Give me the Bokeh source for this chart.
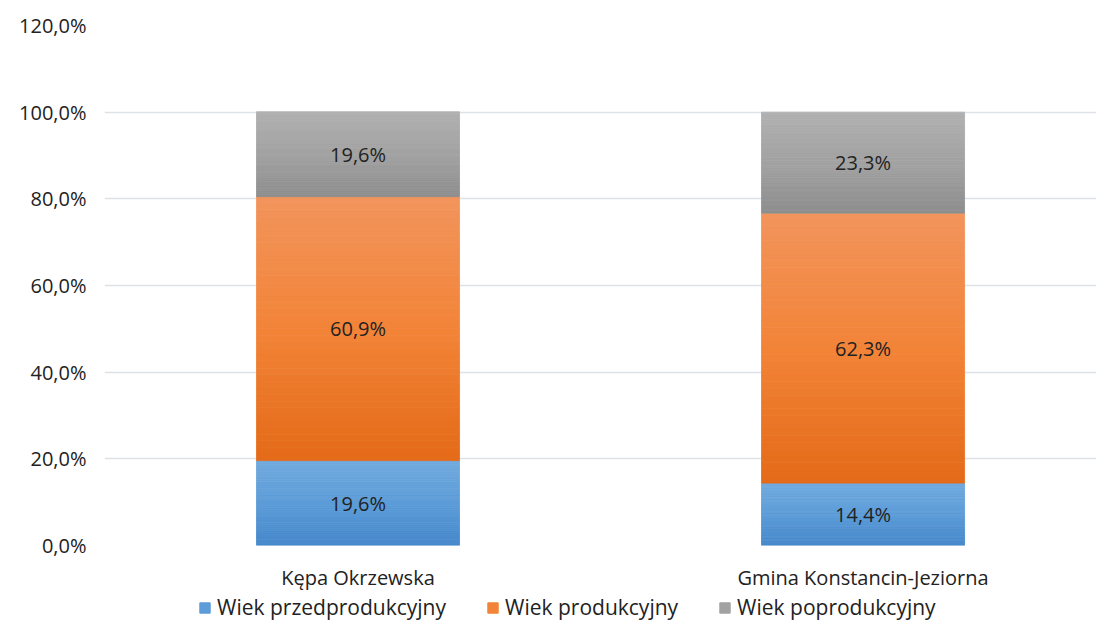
from bokeh.plotting import figure
from bokeh.layouts import column
from bokeh.models import (ColumnDataSource, Range1d, FixedTicker, Legend, LegendItem)
from bokeh.core.properties import value
from bokeh.embed import file_html
from bokeh.resources import INLINE

categories = ["Kępa Okrzewska", "Gmina Konstancin-Jeziorna"]
series_names = ["Wiek przedprodukcyjny", "Wiek produkcyjny", "Wiek poprodukcyjny"]
przed = [19.6, 14.4]
prod = [60.9, 62.3]
poprod = [19.6, 23.3]
y_ticks = [0, 20, 40, 60, 80, 100, 120]
y_tick_labels = ["0,0%", "20,0%", "40,0%", "60,0%", "80,0%", "100,0%", "120,0%"]

series_values = [przed, prod, poprod]
# gradient stops (bottom, middle, top) per series
stops = [
    [(70, 136, 203), (92, 156, 216), (114, 170, 222)],
    [(228, 106, 24), (242, 132, 56), (242, 148, 92)],
    [(142, 142, 142), (162, 162, 162), (176, 176, 176)],
]

FONT = "Open Sans"
TXT = "#222222"
N = 40
BAR_W = 0.402
xs = [0.5 + i for i in range(len(categories))]


def lerp_color(st, f):
    if f <= 0.5:
        a, b, t = st[0], st[1], f / 0.5
    else:
        a, b, t = st[1], st[2], (f - 0.5) / 0.5
    c = tuple(int(round(a[j] + (b[j] - a[j]) * t)) for j in range(3))
    return "#%02x%02x%02x" % c


p = figure(width=1096, height=593, output_backend="svg", toolbar_location=None,
           x_range=Range1d(-0.002, 1.9623), y_range=Range1d(0, 120),
           min_border_left=104, min_border_right=0, min_border_top=25,
           min_border_bottom=48)
p.outline_line_color = None
p.xgrid.grid_line_color = None
p.ygrid.grid_line_color = "#dde2e8"
p.ygrid.grid_line_width = 1.6
p.background_fill_color = "white"
p.border_fill_color = "white"

p.yaxis.ticker = FixedTicker(ticks=y_ticks)
p.yaxis.major_label_overrides = {t: l for t, l in zip(y_ticks, y_tick_labels)}
p.xaxis.ticker = FixedTicker(ticks=xs)
p.xaxis.major_label_overrides = {x: c for x, c in zip(xs, categories)}
for ax in (p.xaxis, p.yaxis):
    ax.axis_line_color = None
    ax.major_tick_line_color = None
    ax.minor_tick_line_color = None
    ax.major_label_text_font = FONT
    ax.major_label_text_font_size = "20px"
    ax.major_label_text_color = TXT
p.yaxis.major_label_standoff = 12
p.xaxis.major_label_standoff = 12

cum = [0.0] * len(categories)
lab_x, lab_y, lab_t = [], [], []
for s, vals in enumerate(series_values):
    bx, bb, bt, bc = [], [], [], []
    for i, v in enumerate(vals):
        base = cum[i]
        for k in range(N):
            bx.append(xs[i])
            bb.append(base + v * k / N)
            bt.append(base + v * (k + 1) / N)
            bc.append(lerp_color(stops[s], (k + 0.5) / N))
        lab_x.append(xs[i])
        lab_y.append(base + v / 2)
        lab_t.append(("%.1f" % v).replace(".", ",") + "%")
        cum[i] = base + v
    src = ColumnDataSource(dict(x=bx, bottom=bb, top=bt, color=bc))
    p.vbar(x="x", width=BAR_W, bottom="bottom", top="top", source=src,
           fill_color="color", line_color="color", line_width=0.8)

p.text(x=lab_x, y=lab_y, text=lab_t, text_align="center", text_baseline="middle",
       text_font=value(FONT), text_font_size="20px", text_color=TXT)

# legend strip below the chart
lg = figure(width=1096, height=31, output_backend="svg", toolbar_location=None,
            x_range=Range1d(0, 1), y_range=Range1d(0, 1),
            min_border_left=0, min_border_right=0, min_border_top=0,
            min_border_bottom=0)
lg.axis.visible = False
lg.grid.visible = False
lg.outline_line_color = None
items = []
for n, st in zip(series_names, stops):
    c = lerp_color(st, 0.5)
    r = lg.vbar(x=[-5], width=0.1, top=[-5], bottom=[-6], fill_color=c, line_color=c)
    items.append(LegendItem(label=n, renderers=[r]))
legend = Legend(items=items, orientation="horizontal", location=(94, 3),
                label_text_font=FONT, label_text_font_size="21px",
                label_text_color=TXT, glyph_width=13, glyph_height=13,
                label_standoff=6, spacing=40, padding=0, margin=0,
                border_line_color=None, background_fill_alpha=0,
                label_height=25)
lg.add_layout(legend, "center")

layout = column(p, lg, spacing=0)
open("out.html", "w").write(file_html(layout, INLINE))
